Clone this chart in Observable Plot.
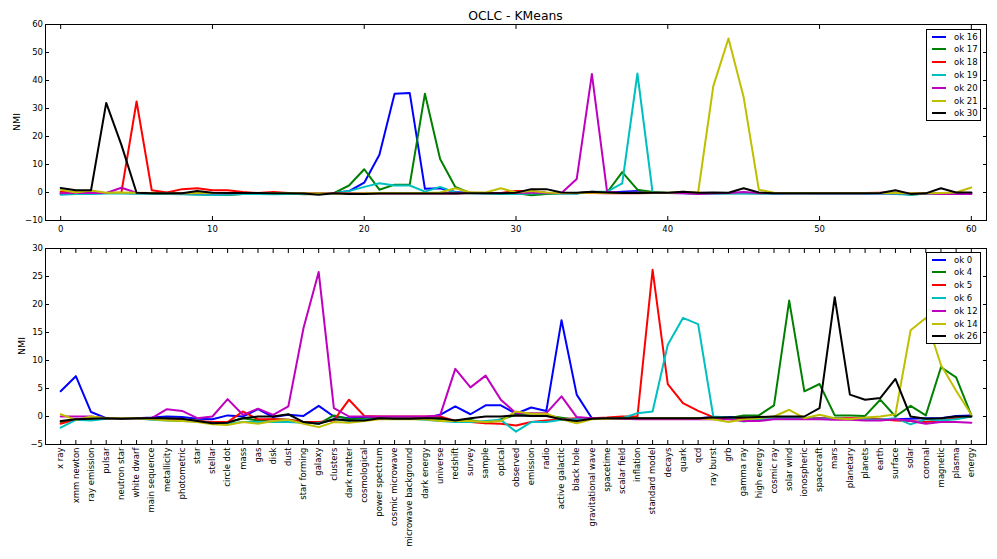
<!DOCTYPE html>
<html><head><meta charset="utf-8">
<script src="https://cdn.jsdelivr.net/npm/d3@7"></script>
<script src="https://cdn.jsdelivr.net/npm/@observablehq/plot@0.6"></script>
<style>
body{margin:0;background:#fff;}
#wrap{position:relative;width:997px;height:559px;font-family:"DejaVu Sans",sans-serif;color:#000;overflow:hidden;}
.abs{position:absolute;}
.title{left:45px;width:941px;top:8px;text-align:center;font-size:12.4px;line-height:15px;}
.ylab{font-size:9.4px;line-height:11px;transform:translate(-50%,-50%) rotate(-90deg);white-space:nowrap;}
.legend{border:1px solid #000;background:#fff;box-sizing:border-box;}
.lrow{position:absolute;left:0;height:12px;width:100%;font-size:8.5px;line-height:12px;}
.lline{position:absolute;left:5px;width:14px;height:2px;top:5px;}
.ltext{position:absolute;left:27px;top:0;white-space:nowrap;}
</style></head><body><div id="wrap"></div>
<script>
// ---------- data: top panel ----------
const topNames = ["ok 16","ok 17","ok 18","ok 19","ok 20","ok 21","ok 30"];
const topXTicks = [0,10,20,30,40,50,60];
const topYTicks = [-10,0,10,20,30,40,50,60];
const ok16 = [-0.5,-0.3,-0.3,-0.2,-0.2,-0.3,-0.3,-0.3,-0.3,-0.4,-0.4,-0.4,-0.3,-0.3,-0.3,-0.3,-0.3,-0.3,-0.2,0.5,3.5,13.5,35.3,35.5,1.3,1.5,0.2,-0.2,-0.3,-0.3,-0.2,-0.1,-0.2,-0.3,-0.3,0.2,-0.1,0.3,0.5,0,-0.2,-0.2,-0.3,-0.3,-0.2,-0.2,-0.3,-0.3,-0.2,-0.2,-0.3,-0.3,-0.3,-0.3,-0.3,-0.3,-0.3,-0.3,-0.3,-0.3,-0.3];
const ok17 = [-0.3,-0.2,-0.2,-0.2,-0.2,-0.3,-0.4,-0.5,-0.5,-0.6,-0.9,-0.9,-0.5,-0.3,-0.3,-0.4,-0.6,-0.5,-0.2,2.5,8.3,1.0,2.8,2.8,35.3,12.0,2.0,-0.2,-0.3,-0.3,-0.2,-1.0,-0.5,-0.3,-0.3,0.2,0.0,7.3,1.0,0.2,-0.2,-0.2,-0.3,-0.2,-0.3,-0.2,-0.3,-0.3,-0.3,-0.3,-0.3,-0.3,-0.3,-0.3,-0.3,-0.2,-0.8,-0.4,-0.3,-0.3,-0.3];
const ok18 = [0.3,0.0,0.0,-0.2,0.0,32.5,0.8,0.0,1.2,1.5,0.8,0.8,0.2,-0.2,0.2,-0.2,-0.3,-0.3,-0.3,-0.3,-0.3,-0.3,-0.3,-0.3,-0.3,-0.3,-0.3,-0.1,-0.2,-0.2,0.5,0.5,-0.1,-0.2,-0.2,-0.2,-0.3,-0.2,-0.3,-0.2,-0.2,-0.2,-0.2,-0.2,-0.2,-0.2,-0.2,-0.2,-0.2,-0.2,-0.2,-0.2,-0.2,-0.2,-0.1,-0.1,-0.2,-0.2,-0.2,-0.2,-0.2];
const ok19 = [-0.8,-0.5,-0.5,-0.4,-0.4,-0.4,-0.4,-0.5,-0.6,-0.8,-0.9,-0.8,-0.5,-0.5,-0.6,-0.5,-0.5,-0.4,-0.3,0.5,2.0,3.3,2.5,2.5,0.3,2.0,0.0,-0.3,-0.3,-0.5,-0.5,-0.4,-0.3,-0.3,-0.4,0.3,0.3,3.3,42.5,0.0,-0.2,-0.3,-0.4,-0.4,-0.4,-0.4,-0.4,-0.4,-0.4,-0.4,-0.4,-0.4,-0.4,-0.4,-0.4,-0.5,-0.8,-0.4,-0.4,-0.4,-0.4];
const ok20 = [-0.3,-0.2,-0.2,-0.2,1.7,-0.1,-0.2,-0.3,-0.3,-0.3,-0.3,-0.3,-0.2,-0.2,-0.2,-0.2,-0.2,-0.2,-0.2,-0.2,-0.2,-0.3,-0.3,-0.3,-0.3,-0.3,-0.3,-0.2,-0.2,-0.2,-0.2,0.0,-0.2,-0.2,4.8,42.3,0.3,-0.2,-0.1,-0.2,-0.2,-0.3,-0.5,-0.3,-0.2,0.2,-0.2,-0.3,-0.3,-0.3,-0.3,-0.3,-0.3,-0.3,-0.3,-0.3,-0.3,-0.4,-0.5,-0.5,-0.5];
const ok21 = [1.0,0.0,0.7,-0.1,0.0,-0.1,-0.2,-0.3,-0.3,-0.2,-0.2,-0.2,-0.2,-0.2,-0.2,-0.2,-0.3,-0.3,-0.4,-0.4,-0.3,-0.2,-0.2,-0.2,-0.2,0.0,1.5,0.0,0.0,1.5,0.0,0.5,0.0,-0.2,-0.2,0.0,-0.2,-0.2,-0.1,-0.1,-0.1,0.3,0.0,38.0,55.0,34.0,1.0,-0.1,-0.2,-0.2,-0.2,-0.2,-0.2,-0.2,-0.2,-0.2,-0.3,-0.3,-0.2,0.0,1.8];
const ok30 = [1.6,0.8,0.8,32.0,17.0,-0.1,-0.3,-0.3,-0.3,0.5,-0.1,-0.2,-0.2,-0.2,-0.3,-0.3,-0.4,-0.8,-0.3,-0.5,-0.5,-0.4,-0.4,-0.4,-0.4,-0.4,-0.4,-0.3,-0.3,-0.3,-0.1,1.2,1.2,0.0,-0.1,0.3,0.0,-0.2,-0.2,-0.1,-0.1,0.3,-0.1,0.0,-0.1,1.5,0.0,-0.3,-0.3,-0.3,-0.3,-0.3,-0.3,-0.3,-0.2,0.8,-0.5,-0.3,1.5,0.0,0.0];

// ---------- data: bottom panel ----------
const categories = ["x ray","xmm newton","ray emission","pulsar","neutron star","white dwarf","main sequence","metallicity","photometric","star","stellar","circle dot","mass","gas","disk","dust","star forming","galaxy","clusters","dark matter","cosmological","power spectrum","cosmic microwave","microwave background","dark energy","universe","redshift","survey","sample","optical","observed","emission","radio","active galactic","black hole","gravitational wave","spacetime","scalar field","inflation","standard model","decays","quark","qcd","ray burst","grb","gamma ray","high energy","cosmic ray","solar wind","ionospheric","spacecraft","mars","planetary","planets","earth","surface","solar","coronal","magnetic","plasma","energy"];
const botNames = ["ok 0","ok 4","ok 5","ok 6","ok 12","ok 14","ok 26"];
const botYTicks = [-5,0,5,10,15,20,25,30];
const ok0 = [4.5,7.2,0.8,-0.3,-0.4,-0.3,-0.2,0.0,-0.1,-0.4,-0.5,0.2,0.0,1.3,-0.1,0.3,0.1,1.9,0.0,-0.3,-0.2,-0.3,-0.3,-0.3,-0.3,0.3,1.8,0.4,2.0,2.0,0.5,1.6,1.0,17.2,3.9,-0.3,-0.4,-0.3,-0.4,-0.4,-0.4,-0.3,-0.3,-0.1,-0.1,-0.2,-0.3,-0.3,-0.3,-0.3,-0.3,-0.3,-0.4,-0.5,-0.6,-0.5,-0.4,-0.3,-0.3,0.1,0.2];
const ok4 = [-1.0,-0.5,-0.3,-0.3,-0.3,-0.3,-0.4,-0.6,-0.7,-0.7,-1.2,-1.0,-0.3,-0.7,-0.5,-0.6,-1.0,-1.3,0.2,-0.5,-0.4,-0.3,-0.3,-0.3,-0.3,-0.5,-0.7,-0.6,-1.2,-0.5,0.3,0.2,0.2,-0.2,-0.6,-0.4,-0.3,-0.3,-0.3,-0.3,-0.3,-0.3,-0.3,-0.3,-0.3,0.2,0.2,2.0,20.7,4.5,5.8,0.2,0.2,0.1,3.0,0.0,1.9,0.2,8.8,7.0,0.2];
const ok5 = [-1.3,-0.5,-0.4,-0.3,-0.3,-0.3,-0.4,-0.5,-0.5,-0.8,-1.0,-1.0,0.9,-0.5,-0.5,-0.6,-1.0,-1.0,-0.7,3.0,0.1,0.0,0.0,0.0,0.0,0.0,-0.8,-1.0,-1.2,-1.3,-1.6,-1.0,-0.7,-0.5,-0.3,-0.3,-0.2,0.0,0.0,26.2,5.8,2.4,1.0,-0.1,-0.3,-0.3,-0.3,-0.3,-0.3,-0.3,-0.3,-0.3,-0.3,-0.3,-0.5,-0.7,-0.8,-1.0,-0.7,-0.3,0.0];
const ok6 = [-2.0,-0.6,-0.7,-0.4,-0.3,-0.3,-0.6,-0.7,-0.8,-0.9,-1.2,-1.3,-1.0,-1.0,-1.0,-1.0,-1.1,-1.2,-0.5,-0.8,-0.6,-0.4,-0.4,-0.4,-0.6,-0.8,-1.0,-1.0,-0.8,-0.6,-2.7,-1.0,-1.0,-0.6,-0.5,-0.4,-0.4,-0.3,0.6,0.9,12.8,17.6,16.5,0.0,-0.2,-0.9,-0.5,-0.3,-0.3,-0.3,-0.4,-0.3,-0.5,-0.5,-0.6,-0.3,-1.4,-0.5,-0.7,-0.5,0.0];
const ok12 = [0.0,0.0,0.0,-0.3,-0.3,-0.3,-0.3,1.3,1.0,-0.3,0.0,3.1,0.3,1.4,0.3,1.8,15.8,25.8,1.5,0.0,0.0,0.0,0.0,0.0,0.0,0.2,8.5,5.2,7.3,3.0,0.6,0.6,0.6,3.6,-0.1,-0.3,-0.4,-0.4,-0.5,-0.5,-0.5,-0.5,-0.5,-0.5,-0.5,-0.8,-0.8,-0.5,-0.5,-0.5,-0.5,-0.6,-0.6,-0.7,-0.7,-0.5,-0.8,-1.3,-1.0,-1.0,-1.1];
const ok14 = [0.4,-0.6,0.0,-0.3,-0.3,-0.3,-0.5,-0.7,-0.8,-1.0,-1.4,-1.5,-1.0,-1.3,-0.8,-0.6,-1.3,-1.9,-1.0,-1.1,-0.8,-0.5,-0.5,-0.5,-0.5,-0.8,-0.8,-0.8,-1.0,-0.8,0.9,0.5,0.5,-0.5,-1.2,-0.5,-0.4,-0.3,-0.3,-0.3,-0.3,-0.3,-0.3,-0.5,-1.0,-0.5,-0.3,0.0,1.2,-0.3,0.3,-0.3,-0.5,-0.2,0.0,0.4,15.4,17.6,9.2,4.6,0.3];
const ok26 = [-0.8,-0.5,-0.4,-0.3,-0.4,-0.3,-0.3,-0.3,-0.4,-0.8,-1.2,-1.1,-0.3,0.0,0.0,0.4,-1.0,-1.3,-0.5,-0.7,-0.7,-0.3,-0.4,-0.4,-0.3,-0.3,-0.7,-0.3,0.0,0.0,0.2,0.1,0.1,-0.5,-0.8,-0.4,-0.3,-0.3,-0.3,-0.3,-0.3,-0.3,-0.3,-0.2,-0.2,-0.2,-0.1,0.0,0.0,0.0,1.5,21.3,3.9,3.0,3.3,6.7,0.0,-0.4,-0.3,0.0,0.0];

const colors = ["#0000ff","#008000","#ff0000","#00bfbf","#bf00bf","#bfbf00","#000000"];

// ---------- build ----------
const wrap = document.getElementById("wrap");
function longRows(names, arrays) {
  const rows = [];
  names.forEach((n, k) => arrays[k].forEach((v, i) => rows.push({x: i, y: v, series: n})));
  return rows;
}
const fmt = d => d < 0 ? "\u2212" + Math.abs(d) : String(d);

function panel({names, arrays, yDomain, yTicks, xTicks, xLabelOpts, height, marginTop, marginBottom}) {
  const rows = longRows(names, arrays);
  return Plot.plot({
    width: 997, height, marginTop, marginBottom, marginLeft: 45, marginRight: 11,
    style: {fontFamily: "DejaVu Sans, sans-serif", fontSize: "8.5px", background: "transparent", color: "#000"},
    x: {domain: [-1, 61], label: null},
    y: {domain: yDomain, label: null},
    color: {domain: names, range: colors},
    marks: [
      Plot.line(rows, {x: "x", y: "y", z: "series", stroke: "series", strokeWidth: 2, strokeLinejoin: "round"}),
      Plot.frame({stroke: "#000", strokeWidth: 1}),
      Plot.axisX(xTicks, {anchor: "bottom", tickSize: 4, dy: -4, fill: "none", tickFormat: () => "", label: null}),
      Plot.axisX(xTicks, {anchor: "top", tickSize: 4, dy: 4, fill: "none", tickFormat: () => "", label: null}),
      Plot.axisY(yTicks, {anchor: "left", tickSize: 4, dx: 4, fill: "none", tickFormat: () => "", label: null}),
      Plot.axisY(yTicks, {anchor: "right", tickSize: 4, dx: -4, fill: "none", tickFormat: () => "", label: null}),
      Plot.axisX(xTicks, {anchor: "bottom", tickSize: 0, label: null, ...xLabelOpts}),
      Plot.axisY(yTicks, {anchor: "left", tickSize: 0, tickPadding: 2.5, tickFormat: fmt, label: null})
    ]
  });
}

function place(el, top) {
  el.style.position = "absolute"; el.style.left = "0px"; el.style.top = top + "px";
  wrap.appendChild(el);
}

const topPlot = panel({
  names: topNames, arrays: [ok16, ok17, ok18, ok19, ok20, ok21, ok30],
  yDomain: [-10, 60], yTicks: topYTicks, xTicks: topXTicks,
  xLabelOpts: {tickPadding: 5, tickFormat: d => String(d)},
  height: 240, marginTop: 24, marginBottom: 20
});
place(topPlot, 0);

const botIdx = d3.range(categories.length);
const botPlot = panel({
  names: botNames, arrays: [ok0, ok4, ok5, ok6, ok12, ok14, ok26],
  yDomain: [-5, 30], yTicks: botYTicks, xTicks: botIdx,
  xLabelOpts: {tickPadding: 3, tickRotate: -90, tickFormat: i => categories[i]},
  height: 319, marginTop: 8, marginBottom: 115
});
place(botPlot, 240);

// title and axis labels
function div(cls, text, css) {
  const d = document.createElement("div");
  d.className = "abs " + cls; d.textContent = text;
  Object.assign(d.style, css || {});
  wrap.appendChild(d); return d;
}
div("title", "OCLC - KMeans");
div("ylab", "NMI", {left: "16px", top: "122px"});
div("ylab", "NMI", {left: "20.5px", top: "346px"});

// legends
function legend(names, left, top) {
  const box = div("legend", "", {left: left + "px", top: top + "px", width: "55px", height: "92px"});
  names.forEach((n, k) => {
    const row = document.createElement("div");
    row.className = "lrow"; row.style.top = (0.5 + k * 12.8) + "px";
    const ln = document.createElement("div"); ln.className = "lline"; ln.style.background = colors[k];
    const tx = document.createElement("div"); tx.className = "ltext"; tx.textContent = n;
    row.appendChild(ln); row.appendChild(tx); box.appendChild(row);
  });
}
legend(topNames, 926, 29);
legend(botNames, 926, 252);
</script></body></html>
